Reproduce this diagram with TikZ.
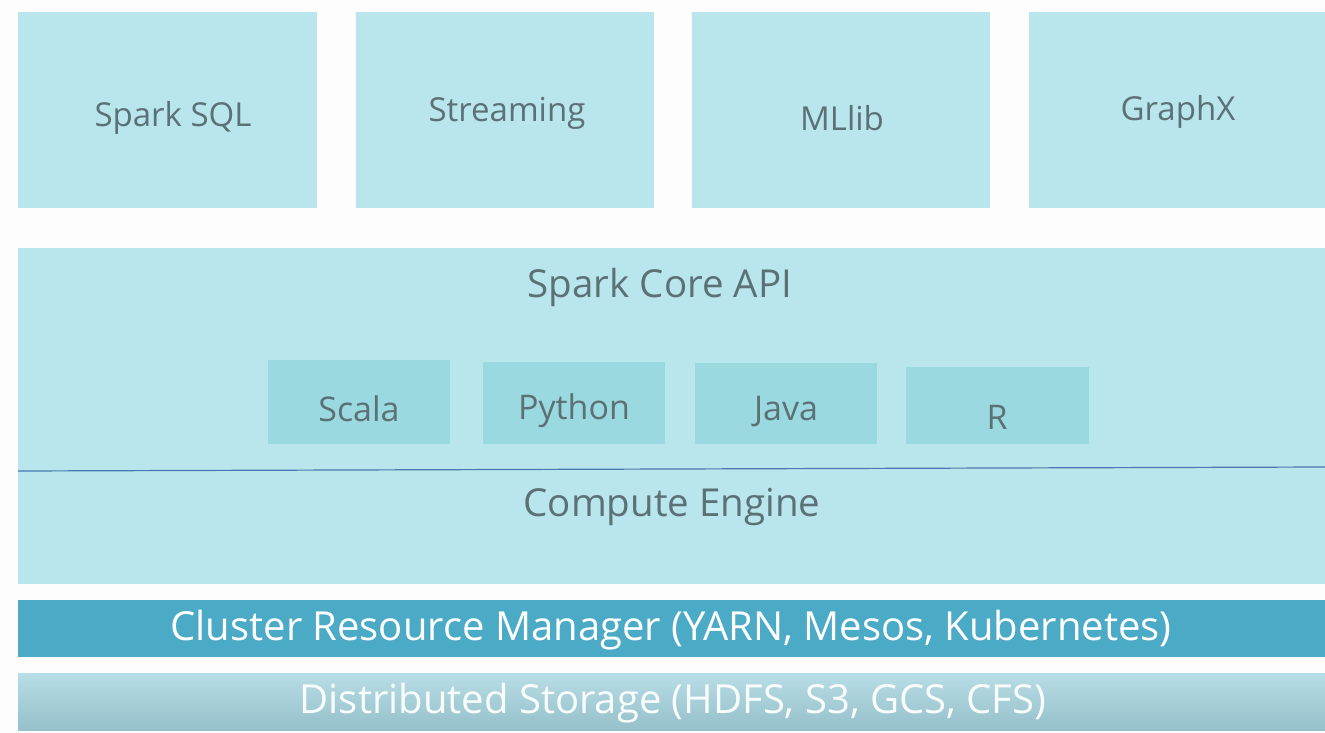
\documentclass[tikz,border=0pt]{standalone}
\usepackage{fontspec}
\setmainfont{Open Sans}
\definecolor{bg}{HTML}{FDFDFD}
\definecolor{boxc}{HTML}{B8E6EC}
\definecolor{langc}{HTML}{9BD9E1}
\definecolor{txt}{HTML}{5B7175}
\definecolor{clus}{HTML}{4BAAC6}
\definecolor{stor}{HTML}{A6D5E0}
\definecolor{linec}{HTML}{4A78B0}
\begin{document}
\begin{tikzpicture}[x=1pt,y=-1pt,
  toplbl/.style={text=txt,inner sep=0pt,font=\fontsize{33}{38}\selectfont},
  corelbl/.style={text=txt,inner sep=0pt,font=\fontsize{38.5}{44}\selectfont},
  langlbl/.style={text=txt,inner sep=0pt,font=\fontsize{34}{39}\selectfont},
  barlbl/.style={inner sep=0pt,font=\fontsize{40}{46}\selectfont}]
\fill[bg] (0,0) rectangle (1325,733);
\useasboundingbox (0,0) rectangle (1325,733);
% top boxes
\fill[boxc] (18,12) rectangle (317,208);
\fill[boxc] (356,12) rectangle (654,208);
\fill[boxc] (692,12) rectangle (990,208);
\fill[boxc] (1029,12) rectangle (1325,208);
\node[toplbl] (sql) at (173,118) {Spark SQL};
\node[toplbl] (stream) at (507,113) {Streaming};
\node[toplbl] (ml) at (842,118) {MLlib};
\node[toplbl] (gx) at (1178,112) {GraphX};
% core
\fill[boxc] (18,248) rectangle (1325,584);
\node[corelbl] (core) at (660,287) {Spark Core API};
\fill[langc] (268,360) rectangle (450,444);
\fill[langc] (483,362) rectangle (665,444);
\fill[langc] (695,363) rectangle (877,444);
\fill[langc] (906,367) rectangle (1089,444);
\node[langlbl] (scala) at (359,409) {Scala};
\node[langlbl] (py) at (574,411) {Python};
\node[langlbl] (java) at (786,412) {Java};
\node[langlbl] (r) at (997,417) {R};
\coordinate (l1) at (18,471);
\coordinate (l2) at (1325,467);
\draw[linec,line width=1.2pt] (l1) -- (l2);
\node[corelbl] (ce) at (672,507) {Compute Engine};
% cluster
\fill[clus] (18,600) rectangle (1325,657);
\node[barlbl,text=white] (cl) at (671,630) {Cluster Resource Manager (YARN, Mesos, Kubernetes)};
% storage
\shade[top color=stor!80!white,bottom color=stor!90!black] (18,673) rectangle (1325,730);
\node[barlbl,text=white!92!stor] (st) at (673,703) {Distributed Storage (HDFS, S3, GCS, CFS)};
\end{tikzpicture}
\end{document}
